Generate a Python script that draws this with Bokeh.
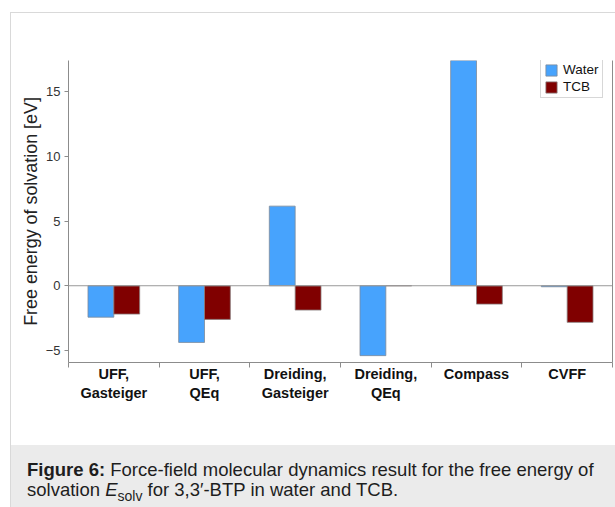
from bokeh.plotting import figure
from bokeh.models import (Range1d, LinearAxis, FixedTicker,
                          Span, Legend, LegendItem, ColumnDataSource, Div)
from bokeh.layouts import column
from bokeh.transform import dodge
from bokeh.embed import file_html
from bokeh.resources import INLINE

# ---- data ----
categories = ["UFF, Gasteiger", "UFF, QEq", "Dreiding, Gasteiger", "Dreiding, QEq", "Compass", "CVFF"]
tick_labels = ["UFF,\nGasteiger", "UFF,\nQEq", "Dreiding,\nGasteiger", "Dreiding,\nQEq", "Compass", "CVFF"]
water = [-2.43, -4.38, 6.15, -5.4, 17.4, -0.08]
tcb = [-2.19, -2.6, -1.88, 0.0, -1.42, -2.83]
y_ticks = [-5, 0, 5, 10, 15]
series_names = ["Water", "TCB"]

FONT = "Liberation Sans"
n = len(categories)
centers = [i + 0.5 for i in range(n)]
edges = list(range(n + 1))
src = ColumnDataSource(dict(x=centers, cat=categories, water=water, tcb=tcb))

p = figure(x_range=Range1d(0, n), y_range=Range1d(-5.93, 17.4),
           width=604, height=432, output_backend="svg", toolbar_location=None,
           x_axis_location=None, y_axis_location="left",
           min_border_left=57, min_border_right=3, min_border_top=47, min_border_bottom=83)
p.outline_line_color = None
p.xgrid.grid_line_color = None
p.ygrid.grid_line_color = None
p.background_fill_color = "white"
p.border_fill_color = "white"

# y axis
ya = p.yaxis[0]
ya.ticker = FixedTicker(ticks=y_ticks)
ya.minor_tick_line_color = None
ya.major_tick_in = 0
ya.major_tick_out = 4
ya.axis_line_color = "#8c8c8c"
ya.major_tick_line_color = "#8c8c8c"
ya.major_label_text_font = FONT
ya.major_label_text_font_size = "13px"
ya.major_label_text_color = "#333333"
ya.major_label_standoff = 4
ya.axis_label = "Free energy of solvation [eV]"
ya.axis_label_text_font = FONT
ya.axis_label_text_font_size = "17.9px"
ya.axis_label_text_font_style = "normal"
ya.axis_label_text_color = "#222222"
ya.axis_label_standoff = 2

# bottom axis: labels at category centres, tick marks at category boundaries
cat_axis = LinearAxis(ticker=FixedTicker(ticks=centers, minor_ticks=edges),
                      axis_line_color="#8c8c8c", major_tick_line_color=None,
                      minor_tick_line_color="#8c8c8c", minor_tick_in=0, minor_tick_out=5,
                      major_tick_in=0, major_tick_out=0,
                      major_label_text_font=FONT, major_label_text_font_size="14.5px",
                      major_label_text_font_style="bold", major_label_text_color="#111111",
                      major_label_standoff=-2,
                      major_label_overrides={c: t for c, t in zip(centers, tick_labels)})
p.add_layout(cat_axis, "below")

# right frame line
right_axis = LinearAxis(ticker=FixedTicker(ticks=[]), major_tick_line_color=None, minor_tick_line_color=None,
                        axis_line_color="#8c8c8c", major_label_standoff=0)
p.add_layout(right_axis, "right")

# zero line
p.add_layout(Span(location=0, dimension="width", line_color="#999999", line_width=1))

bw = 0.285
r1 = p.vbar(x=dodge("x", -bw / 2), top="water", bottom=0, width=bw, source=src,
            fill_color="#47a3fd", line_color="#7f8a99", line_width=0.8)
r2 = p.vbar(x=dodge("x", bw / 2), top="tcb", bottom=0, width=bw, source=src,
            fill_color="#800000", line_color="#8a7f7f", line_width=0.8)

legend = Legend(items=[LegendItem(label=series_names[0], renderers=[r1]),
                       LegendItem(label=series_names[1], renderers=[r2])],
                location=(472, 264))
legend.glyph_width = 14
legend.glyph_height = 14
legend.label_height = 14
legend.label_standoff = 5
legend.spacing = 2
legend.padding = 3
legend.margin = 0
legend.label_text_font = FONT
legend.label_text_font_size = "13.5px"
legend.label_text_color = "#111111"
legend.border_line_color = "#b0b0b0"
legend.border_line_width = 1
legend.background_fill_alpha = 1
p.add_layout(legend)

caption_html = ('<div style="width:604px;height:62px;box-sizing:border-box;background:#ebebeb;white-space:nowrap;'
                'padding:15px 8px 0 16px;font-family:\'Liberation Sans\';font-size:18.5px;line-height:20px;color:#1e1e1e;">'
                '<b>Figure 6:</b> Force-field molecular dynamics result for the free energy of<br>'
                'solvation <i>E</i><sub style="font-size:14px;line-height:0">solv</sub> for 3,3&#8242;-BTP in water and TCB.</div>')
cap = Div(text=caption_html, width=604, height=62, margin=0)

layout = column(p, cap, spacing=0,
                styles={"border-left": "1px solid #d9d9d9", "border-top": "1px solid #d9d9d9",
                        "margin-top": "12px", "margin-left": "10px"})

open("out.html", "w").write(file_html(layout, INLINE))
